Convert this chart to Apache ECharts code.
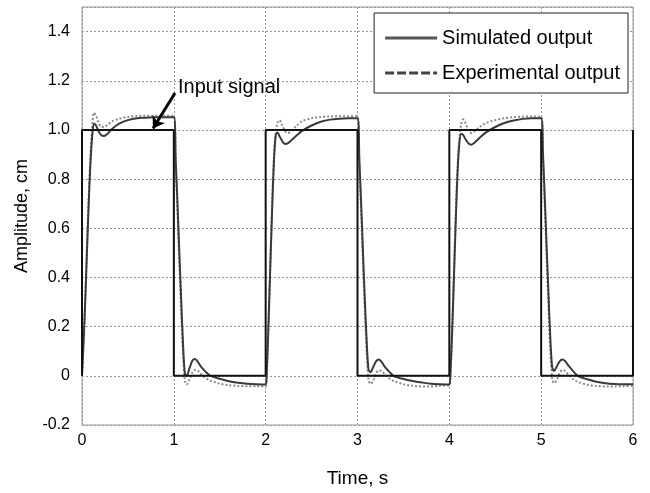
<!DOCTYPE html>
<html>
<head>
<meta charset="utf-8">
<script src="https://cdn.jsdelivr.net/npm/echarts@6/dist/echarts.min.js"></script>
<style>html,body{margin:0;padding:0;background:#fff}#c{width:650px;height:493px}</style>
</head>
<body>
<div id="c"></div>
<script>
const timeS = [
 0.00,0.01,0.03,0.05,0.07,0.09,0.11,0.13,0.15,0.18,0.21,0.24,0.28,0.33,0.40,0.50,0.60,0.70,0.80,0.90,1.00,
 1.02,1.04,1.06,1.08,1.10,1.12,1.14,1.17,1.20,1.23,1.26,1.30,1.35,1.40,1.50,1.60,1.70,1.80,1.90,2.00,
 2.01,2.03,2.05,2.07,2.09,2.11,2.13,2.15,2.18,2.21,2.24,2.28,2.33,2.40,2.50,2.60,2.70,2.80,2.90,3.00,
 3.02,3.04,3.06,3.08,3.10,3.12,3.14,3.17,3.20,3.23,3.26,3.30,3.35,3.40,3.50,3.60,3.70,3.80,3.90,4.00,
 4.01,4.03,4.05,4.07,4.09,4.11,4.13,4.15,4.18,4.21,4.24,4.28,4.33,4.40,4.50,4.60,4.70,4.80,4.90,5.00,
 5.02,5.04,5.06,5.08,5.10,5.12,5.14,5.17,5.20,5.23,5.26,5.30,5.35,5.40,5.50,5.60,5.70,5.80,5.90,6.00
];
const simulatedOutput = [
 0, 0.08, 0.25, 0.46, 0.67, 0.85, 0.97, 1.025, 1.02, 0.995, 0.978, 0.975, 0.985, 1.005, 1.025, 1.04, 1.048, 1.05, 1.052, 1.052, 1.052,
 0.88, 0.70, 0.50, 0.31, 0.13, 0.01, 0.0, 0.03, 0.06, 0.068, 0.058, 0.035, 0.015, 0.0, -0.012, -0.022, -0.028, -0.032, -0.034, -0.035,
 0.0, 0.2, 0.44, 0.67, 0.87, 0.98, 0.99, 0.975, 0.955, 0.943, 0.945, 0.958, 0.975, 0.997, 1.018, 1.033, 1.042, 1.046, 1.048, 1.048,
 0.88, 0.70, 0.50, 0.31, 0.14, 0.025, 0.015, 0.035, 0.058, 0.066, 0.058, 0.035, 0.015, -0.002, -0.013, -0.021, -0.027, -0.032, -0.034, -0.035,
 0.0, 0.17, 0.40, 0.63, 0.83, 0.95, 0.985, 0.98, 0.96, 0.945, 0.94, 0.95, 0.968, 0.99, 1.012, 1.028, 1.038, 1.045, 1.048, 1.048,
 0.9, 0.72, 0.52, 0.33, 0.15, 0.035, 0.02, 0.038, 0.058, 0.066, 0.06, 0.04, 0.018, 0.0, -0.014, -0.024, -0.03, -0.033, -0.034, -0.034
];
const experimentalOutput = [
 0, 0.08, 0.26, 0.48, 0.70, 0.88, 1.01, 1.07, 1.06, 1.03, 1.013, 1.012, 1.022, 1.035, 1.045, 1.053, 1.057, 1.058, 1.058, 1.058, 1.058,
 0.86, 0.66, 0.45, 0.26, 0.09, -0.02, -0.035, -0.015, 0.012, 0.024, 0.022, 0.005, -0.01, -0.02, -0.032, -0.038, -0.041, -0.042, -0.042, -0.042,
 -0.02, 0.2, 0.45, 0.70, 0.89, 0.99, 1.03, 1.04, 1.02, 0.995, 0.987, 0.995, 1.015, 1.036, 1.048, 1.053, 1.055, 1.056, 1.056, 1.056,
 0.86, 0.66, 0.45, 0.26, 0.09, -0.015, -0.033, -0.02, 0.008, 0.022, 0.02, 0.005, -0.012, -0.022, -0.034, -0.04, -0.043, -0.043, -0.04, -0.038,
 -0.02, 0.18, 0.42, 0.66, 0.86, 0.97, 1.025, 1.043, 1.025, 0.995, 0.988, 0.996, 1.012, 1.028, 1.04, 1.048, 1.052, 1.054, 1.055, 1.055,
 0.88, 0.68, 0.47, 0.27, 0.1, -0.01, -0.03, -0.018, 0.01, 0.024, 0.02, 0.003, -0.014, -0.025, -0.036, -0.041, -0.043, -0.043, -0.042, -0.04
];
const inputTime   = [0, 0, 1, 1, 2, 2, 3, 3, 4, 4, 5, 5, 6, 6];
const inputSignal = [0, 1, 1, 0, 0, 1, 1, 0, 0, 1, 1, 0, 0, 1];
const annotationArrow = [[1.013, 1.15], [0.773, 1.006]];

const FONT = '"Liberation Sans", Arial, sans-serif';
const pair = (xs, ys) => xs.map((x, i) => [x, ys[i]]);

const SOLID_ICON = 'path://M0,0h52v3h-52z';
const DASH_ICON = 'path://M0,0h9v3h-9zM12,0h9v3h-9zM24,0h9v3h-9zM36,0h9v3h-9zM48,0h4v3h-4z';

const chart = echarts.init(document.getElementById('c'), null, {renderer: 'canvas'});
chart.setOption({
  animation: false,
  backgroundColor: '#fff',
  textStyle: {fontFamily: FONT},
  grid: {left: 82, right: 17, top: 7, bottom: 65, show: true, borderColor: '#999', borderWidth: 1, backgroundColor: 'transparent'},
  legend: {
    orient: 'vertical', right: 22, top: 13,
    backgroundColor: '#fff', borderColor: '#222', borderWidth: 1,
    padding: [15, 8, 10, 11], itemGap: 15, itemWidth: 52, itemHeight: 3,
    textStyle: {fontSize: 20, color: '#000', fontFamily: FONT},
    data: [
      {name: 'Simulated output', icon: SOLID_ICON, itemStyle: {color: '#555', borderWidth: 0}},
      {name: 'Experimental output', icon: DASH_ICON, itemStyle: {color: '#444', borderWidth: 0}}
    ]
  },
  xAxis: {
    type: 'value', min: 0, max: 6, interval: 1,
    name: 'Time, s', nameLocation: 'middle', nameGap: 44,
    nameTextStyle: {fontSize: 19, color: '#000', fontFamily: FONT},
    axisLine: {show: false}, axisTick: {show: false},
    axisLabel: {fontSize: 16, color: '#000', margin: 8, fontFamily: FONT},
    splitLine: {show: true, lineStyle: {color: '#999', type: [2, 2], width: 1}}
  },
  yAxis: {
    type: 'value', min: -0.2, max: 1.5, interval: 0.2,
    name: 'Amplitude, cm', nameLocation: 'middle', nameGap: 48,
    nameTextStyle: {fontSize: 18, color: '#000', fontFamily: FONT},
    axisLine: {show: false}, axisTick: {show: false},
    axisLabel: {fontSize: 16, color: '#000', margin: 12, showMaxLabel: false, fontFamily: FONT,
      formatter: v => (Math.abs(v) < 1e-9 ? '0' : (Math.abs(v - 1) < 1e-9 ? '1.0' : v.toFixed(1)))},
    splitLine: {show: true, lineStyle: {color: '#999', type: [2, 2], width: 1}}
  },
  series: [
    {
      name: 'Experimental output', type: 'line', data: pair(timeS, experimentalOutput),
      showSymbol: false, symbol: 'none', smooth: 0.3, color: '#8a8a8a',
      lineStyle: {color: '#8a8a8a', width: 2, type: [2, 2]}, z: 2
    },
    {
      name: 'Simulated output', type: 'line', data: pair(timeS, simulatedOutput),
      showSymbol: false, symbol: 'none', smooth: 0.3, color: '#3a3a3a',
      lineStyle: {color: '#3a3a3a', width: 2, type: 'solid'}, z: 3
    },
    {
      name: 'Input signal', type: 'line', data: pair(inputTime, inputSignal),
      showSymbol: false, symbol: 'none', color: '#111',
      lineStyle: {color: '#111', width: 2}, z: 4,
      markLine: {
        silent: true, symbol: ['none', 'arrow'], symbolSize: 11,
        lineStyle: {color: '#000', width: 3, type: 'solid'},
        label: {show: false},
        data: [[{coord: annotationArrow[0]}, {coord: annotationArrow[1]}]]
      }
    }
  ],
  graphic: [
    {type: 'text', left: 178, top: 77, style: {text: 'Input signal', font: '20px ' + FONT, fill: '#000'}}
  ]
});
</script>
</body>
</html>
